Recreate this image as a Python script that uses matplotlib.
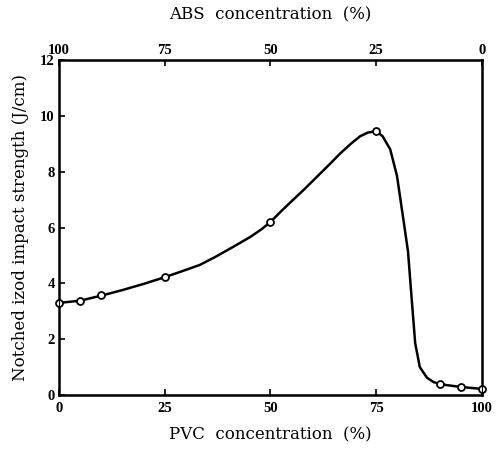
import matplotlib
matplotlib.use('Agg')
import matplotlib.pyplot as plt

# measured points
pvc = [0, 5, 10, 25, 50, 75, 90, 95, 100]
impact = [3.3, 3.38, 3.58, 4.22, 6.2, 9.45, 0.39, 0.29, 0.22]

# trace of the hand-drawn curve
curve_x = [0, 5, 10, 15, 20, 25, 29, 33.3, 37, 41.1, 45.2, 48, 50, 52.5, 55.4, 58, 61, 64, 66.4,
           69, 71.2, 73, 75, 76.5, 78.3, 79.9, 81.4, 82.5, 83.4, 84.2, 85.3, 87, 88.5, 90, 95, 100]
curve_y = [3.3, 3.38, 3.56, 3.76, 3.98, 4.22, 4.43, 4.66, 4.95, 5.3, 5.66, 5.95, 6.2, 6.58, 7.0, 7.37,
           7.82, 8.27, 8.64, 9.0, 9.27, 9.4, 9.45, 9.27, 8.8, 7.85, 6.3, 5.15, 3.4, 1.86, 1.0, 0.62,
           0.47, 0.39, 0.29, 0.22]

bottom_ticks = [0, 25, 50, 75, 100]
top_labels = ['100', '75', '50', '25', '0']
y_ticks = [0, 2, 4, 6, 8, 10, 12]

plt.rcParams['font.family'] = ['Liberation Serif', 'DejaVu Serif']

fig = plt.figure(figsize=(4.99, 4.51), dpi=100)
ax = fig.add_axes([0.118, 0.124, 0.848, 0.743])

ax.plot(curve_x, curve_y, color='black', lw=1.8, solid_capstyle='round', solid_joinstyle='round')
ax.plot(pvc, impact, 'o', ms=5, mfc='white', mec='black', mew=1.3, clip_on=False, zorder=3)

ax.set_xlim(0, 100)
ax.set_ylim(0, 12)
ax.set_xticks(bottom_ticks)
ax.set_yticks(y_ticks)
ax.tick_params(direction='in', length=4, width=1.2, labelsize=10.5, pad=3)
ax.tick_params(axis='x', pad=5)
for lab in ax.get_xticklabels() + ax.get_yticklabels():
    lab.set_fontweight('bold')
for s in ax.spines.values():
    s.set_linewidth(1.8)

ax.set_xlabel('PVC  concentration  (%)', fontsize=12, family='DejaVu Serif', labelpad=8)
ax.set_ylabel('Notched izod impact strength (J/cm)', fontsize=12, family='DejaVu Serif', labelpad=8)

top = ax.twiny()
top.set_xlim(0, 100)
top.set_xticks(bottom_ticks)
top.set_xticklabels(top_labels, fontweight='bold')
top.tick_params(direction='in', length=4, width=1.2, labelsize=10.5, pad=2)
top.set_xlabel('ABS  concentration  (%)', fontsize=12, family='DejaVu Serif', labelpad=18)

plt.savefig('out.png', dpi=100)
plt.close()
